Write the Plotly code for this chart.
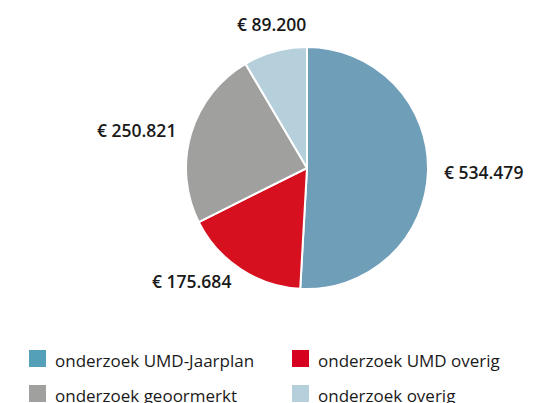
import math
import plotly.graph_objects as go

labels = ["onderzoek UMD-Jaarplan", "onderzoek UMD overig", "onderzoek geoormerkt", "onderzoek overig"]
values = [534479, 175684, 250821, 89200]
pie_colors = ["#6f9fb8", "#d7101f", "#a0a09f", "#b5cfdb"]
legend_colors = ["#55a0b9", "#d6001f", "#a0a09f", "#b5cfdb"]

W, H = 540, 403
CX, CY, R = 307, 168, 121  # pie centre / radius in pixels

fig = go.Figure()
fig.add_trace(go.Pie(
    labels=labels, values=values, sort=False, direction="clockwise", rotation=0,
    marker=dict(colors=pie_colors, line=dict(color="white", width=2)),
    textinfo="none",
    domain=dict(x=[(CX-R)/W, (CX+R)/W], y=[(H-CY-R)/H, (H-CY+R)/H]),
    showlegend=False, hoverinfo="label+value",
))

# value labels just outside each slice, at the slice's mid angle
total = sum(values)
cum = 0
for v in values:
    mid = (cum + v/2) / total * 2*math.pi
    cum += v
    s, c = math.sin(mid), math.cos(mid)
    d = R + 14
    px, py = CX + d*s, CY - d*c
    if s > 0.4:
        xa, ya = "left", "middle"
    elif s < -0.4:
        xa, ya = "right", "middle"
    else:
        xa, ya = "center", ("bottom" if c > 0 else "top")
    txt = "€ " + f"{v:,}".replace(",", ".")
    fig.add_annotation(xref="paper", yref="paper", x=px/W, y=1-py/H,
                       xanchor=xa, yanchor=ya, showarrow=False, text=txt,
                       font=dict(family="Open Sans", size=17.5, color="#1a1a1a", weight=600))

# legend (manual, two columns)
leg_pos = [(29, 350), (292, 350), (29, 385), (292, 385)]
for (x0, y0), lab, col in zip(leg_pos, labels, legend_colors):
    fig.add_shape(type="rect", xref="paper", yref="paper",
                  x0=x0/W, x1=(x0+17)/W, y0=1-(y0+17)/H, y1=1-y0/H,
                  fillcolor=col, line=dict(width=0))
    fig.add_annotation(xref="paper", yref="paper", x=(x0+24)/W, y=1-(y0+10)/H,
                       xanchor="left", yanchor="middle", showarrow=False, text=lab,
                       font=dict(family="Open Sans", size=17, color="#1a1a1a", weight=500))

fig.update_layout(width=W, height=H, margin=dict(l=0, r=0, t=0, b=0),
                  paper_bgcolor="white", plot_bgcolor="white", separators=",.")
fig.write_html("out.html", config={"displayModeBar": False},
               post_script="document.body.style.margin='0';")
